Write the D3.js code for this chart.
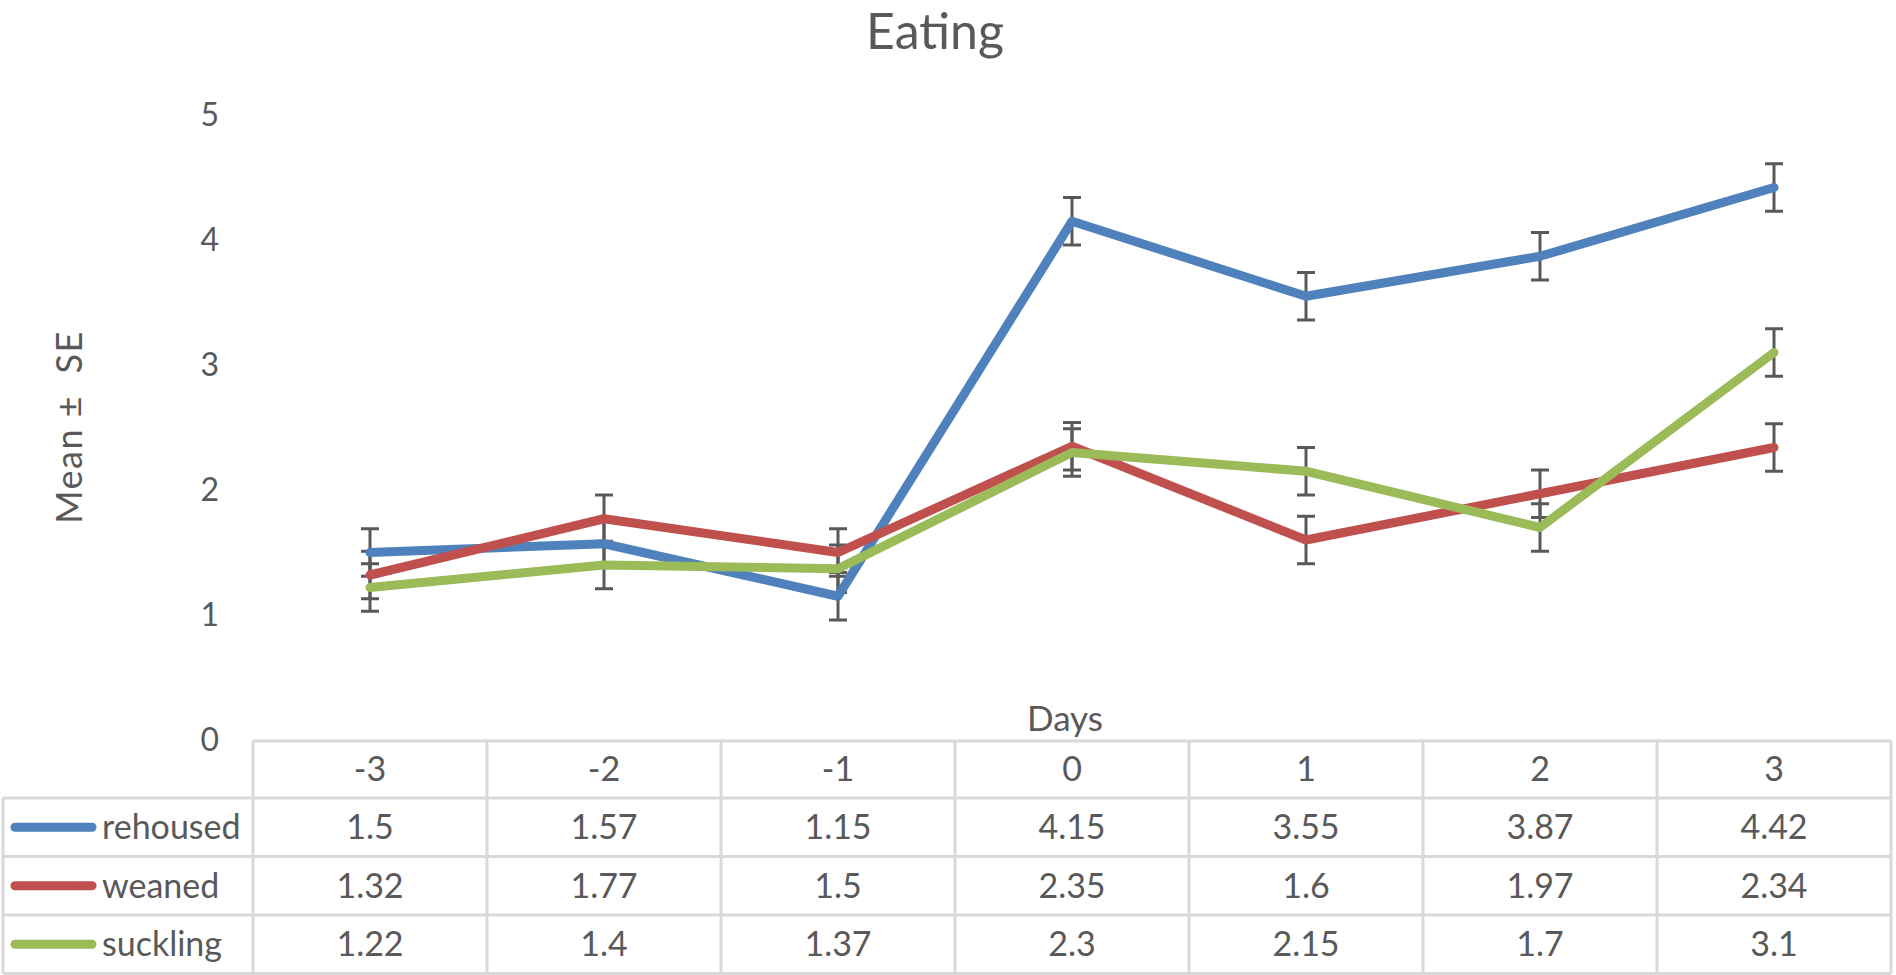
<!DOCTYPE html>
<html>
<head>
<meta charset="utf-8">
<script src="https://cdn.jsdelivr.net/npm/d3@7"></script>
<style>
  html, body { margin: 0; padding: 0; background: #fff; }
  svg { display: block; }
  text { font-family: Lato, "Open Sans", sans-serif; fill: #595959; }
</style>
</head>
<body>
<div id="chart"></div>
<script>
// data
const days = ["-3", "-2", "-1", "0", "1", "2", "3"];
const seriesNames = ["rehoused", "weaned", "suckling"];
const rehoused = [1.5, 1.57, 1.15, 4.15, 3.55, 3.87, 4.42];
const weaned = [1.32, 1.77, 1.5, 2.35, 1.6, 1.97, 2.34];
const suckling = [1.22, 1.4, 1.37, 2.3, 2.15, 1.7, 3.1];
const seRehoused = [0.19, 0.19, 0.19, 0.19, 0.19, 0.19, 0.19];
const seWeaned = [0.19, 0.19, 0.19, 0.19, 0.19, 0.19, 0.19];
const seSuckling = [0.19, 0.19, 0.19, 0.19, 0.19, 0.19, 0.19];
const yTicks = [0, 1, 2, 3, 4, 5];
const colors = ["#4F81BD", "#C0504D", "#9BBB59"];

const series = [
    { name: seriesNames[0], values: rehoused, se: seRehoused, color: colors[0] },
    { name: seriesNames[1], values: weaned, se: seWeaned, color: colors[1] },
    { name: seriesNames[2], values: suckling, se: seSuckling, color: colors[2] }
];

const W = 1896, H = 975;
const tableLeft = 253, tableRight = 1891, legendLeft = 3;
const headerTop = 741, headerH = 57, rowH = 58.5;

const svg = d3.select("#chart").append("svg")
    .attr("width", W)
    .attr("height", H);

// Scales
const x = d3.scaleBand()
    .domain(days)
    .range([tableLeft, tableRight])
    .padding(0);
const cx = d => x(d) + x.bandwidth() / 2;

const y = d3.scaleLinear()
    .domain([0, 5])
    .range([740, 115]);

// Title
svg.append("text")
    .attr("x", 935)
    .attr("y", 49)
    .attr("text-anchor", "middle")
    .style("font-size", "50px")
    .text("Eating");

// Y axis (labels only)
const yAxis = svg.append("g")
    .attr("transform", "translate(219,0)")
    .call(d3.axisLeft(y).tickValues(yTicks).tickSize(0).tickPadding(0).tickFormat(d3.format("d")));
yAxis.select(".domain").remove();
yAxis.selectAll("text")
    .style("font-family", "Lato, sans-serif")
    .style("font-size", "32px")
    .attr("fill", "#595959");

// Y axis title
svg.append("text")
    .attr("transform", "translate(82,427) rotate(-90)")
    .attr("text-anchor", "middle")
    .style("font-size", "36px")
    .style("letter-spacing", "1.5px")
    .attr("xml:space", "preserve")
    .text("Mean \u00B1  SE");

// X axis title
svg.append("text")
    .attr("x", 1065)
    .attr("y", 731)
    .attr("text-anchor", "middle")
    .style("font-size", "35px")
    .text("Days");

// Error bars
const capW = 9;
series.forEach(s => {
    const g = svg.append("g").attr("stroke", "#595959").attr("stroke-width", 3);
    days.forEach((d, i) => {
        const v = s.values[i], e = s.se[i];
        g.append("line")
            .attr("x1", cx(d)).attr("x2", cx(d))
            .attr("y1", y(v + e)).attr("y2", y(v - e));
        [v + e, v - e].forEach(t => {
            g.append("line")
                .attr("x1", cx(d) - capW).attr("x2", cx(d) + capW)
                .attr("y1", y(t)).attr("y2", y(t));
        });
    });
});

// Lines
const line = d3.line()
    .x((v, i) => cx(days[i]))
    .y(v => y(v));

series.forEach(s => {
    svg.append("path")
        .datum(s.values)
        .attr("fill", "none")
        .attr("stroke", s.color)
        .attr("stroke-width", 9)
        .attr("stroke-linejoin", "round")
        .attr("stroke-linecap", "round")
        .attr("d", line);
});

// Data table
const grid = svg.append("g")
    .attr("stroke", "#D9D9D9")
    .attr("stroke-width", 3);
const rowTops = [headerTop, headerTop + headerH];
series.forEach((s, i) => rowTops.push(headerTop + headerH + rowH * (i + 1)));

// horizontal lines
grid.append("line")
    .attr("x1", tableLeft).attr("x2", tableRight)
    .attr("y1", rowTops[0]).attr("y2", rowTops[0]);
rowTops.slice(1).forEach(t => {
    grid.append("line")
        .attr("x1", legendLeft).attr("x2", tableRight)
        .attr("y1", t).attr("y2", t);
});
// vertical lines
const bottom = rowTops[rowTops.length - 1];
grid.append("line")
    .attr("x1", legendLeft).attr("x2", legendLeft)
    .attr("y1", rowTops[1]).attr("y2", bottom);
days.forEach(d => {
    grid.append("line")
        .attr("x1", x(d)).attr("x2", x(d))
        .attr("y1", headerTop).attr("y2", bottom);
});
grid.append("line")
    .attr("x1", tableRight).attr("x2", tableRight)
    .attr("y1", headerTop).attr("y2", bottom);

// header labels
svg.selectAll(".day-label")
    .data(days)
    .enter()
    .append("text")
    .attr("class", "day-label")
    .attr("x", d => cx(d))
    .attr("y", headerTop + headerH / 2)
    .attr("dy", "0.35em")
    .attr("text-anchor", "middle")
    .style("font-size", "34px")
    .text(d => d);

// rows
series.forEach((s, i) => {
    const mid = rowTops[i + 1] + rowH / 2;
    svg.append("line")
        .attr("x1", 15).attr("x2", 92)
        .attr("y1", mid).attr("y2", mid)
        .attr("stroke", s.color)
        .attr("stroke-width", 9)
        .attr("stroke-linecap", "round");
    svg.append("text")
        .attr("x", 102)
        .attr("y", mid)
        .attr("dy", "0.35em")
        .style("font-size", "34px")
        .text(s.name);
    svg.selectAll(".val-" + i)
        .data(s.values)
        .enter()
        .append("text")
        .attr("class", "val-" + i)
        .attr("x", (v, j) => cx(days[j]))
        .attr("y", mid)
        .attr("dy", "0.35em")
        .attr("text-anchor", "middle")
        .style("font-size", "34px")
        .text(v => v);
});
</script>
</body>
</html>
